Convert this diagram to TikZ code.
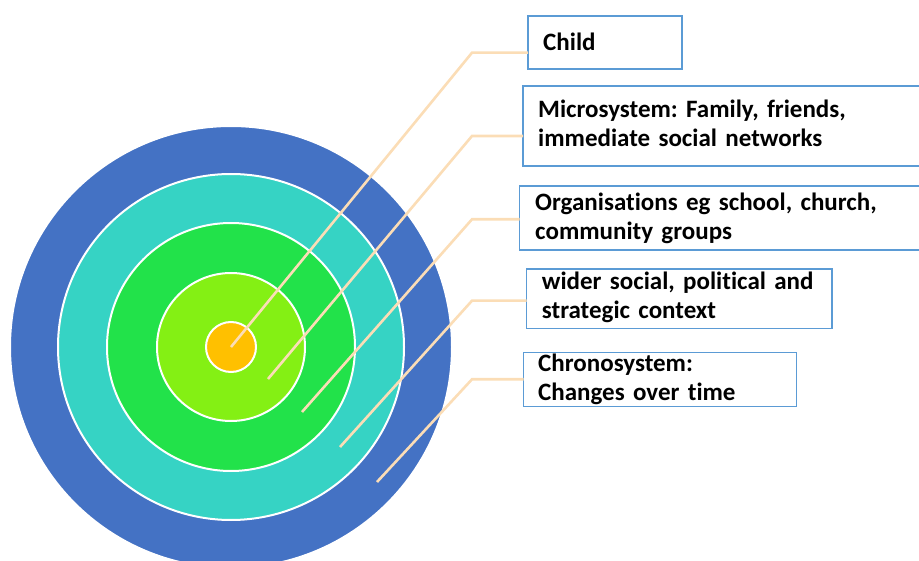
\documentclass[tikz,border=0pt]{standalone}
\usepackage{fontspec}
\setmainfont{Carlito}[Ligatures={NoCommon}]
\usetikzlibrary{positioning,calc}
\definecolor{ringchrono}{HTML}{4472C4}
\definecolor{ringwider}{HTML}{36D3C4}
\definecolor{ringorg}{HTML}{22E24A}
\definecolor{ringmicro}{HTML}{84F014}
\definecolor{ringchild}{HTML}{FFC000}
\definecolor{leadpeach}{HTML}{FBDDB6}
\definecolor{boxblue}{HTML}{5B9BD5}
\frenchspacing
\begin{document}
\begin{tikzpicture}[
x=1pt,
y=-1pt,
ring/.style={
  circle,
  draw=white,
  line width=2pt,
  inner sep=0pt
  },
lbox/.style={
  rectangle,
  draw=boxblue,
  line width=1.6pt,
  anchor=north west,
  inner sep=0pt,
  outer sep=0pt
  },
ltext/.style={
  anchor=base west,
  inner sep=0pt,
  text width=420pt,
  align=left,
  font=\bfseries\fontsize{25}{28.7}\selectfont
  },
lead/.style={
  draw=leadpeach,
  line width=2.6pt
  }
]
\useasboundingbox (0,0) rectangle (919,561);
\foreach \nm/\r/\col in {chrono/221/ringchrono, wider/173/ringwider, org/124/ringorg, micro/74/ringmicro, child/25/ringchild}
  \node[ring, fill=\col, minimum size={2*\r*1pt}] (c-\nm) at (231,347) {};

\foreach \nm/\bx/\by/\bw/\bh in {child/528/16/154/53, micro/523/86/402/80, org/519.5/186/410/64, wider/526.5/269/305.5/59.5, chrono/523.5/352.5/273/54}
  \node[lbox, minimum width={\bw*1pt}, minimum height={\bh*1pt}] (box-\nm) at (\bx,\by) {};

\node[ltext] (t-child) at (543,50.7) {Child};
\node[ltext] (t-micro) at (538,118) {Microsystem: Family, friends,\\immediate social networks};
\node[ltext] (t-org) at (535,211) {Organisations eg school, church,\\community groups};
\node[ltext] (t-wider) at (541.7,290) {wider social, political and\\strategic context};
\node[ltext] (t-chrono) at (538,371.7) {Chronosystem:\\Changes over time};

\coordinate (s-child) at (c-child.center);
\coordinate (s-micro) at (268,379);
\coordinate (s-org) at (302,412);
\coordinate (s-wider) at (340,447);
\coordinate (s-chrono) at (377,482);
\foreach \nm/\by in {child/52.7, micro/136, org/219.3, wider/300.7, chrono/379.3}
{
  \coordinate (b-\nm) at (472,\by);
  \draw[lead] (s-\nm) -- (b-\nm) -- (b-\nm -| box-\nm.west);
}
\end{tikzpicture}
\end{document}
